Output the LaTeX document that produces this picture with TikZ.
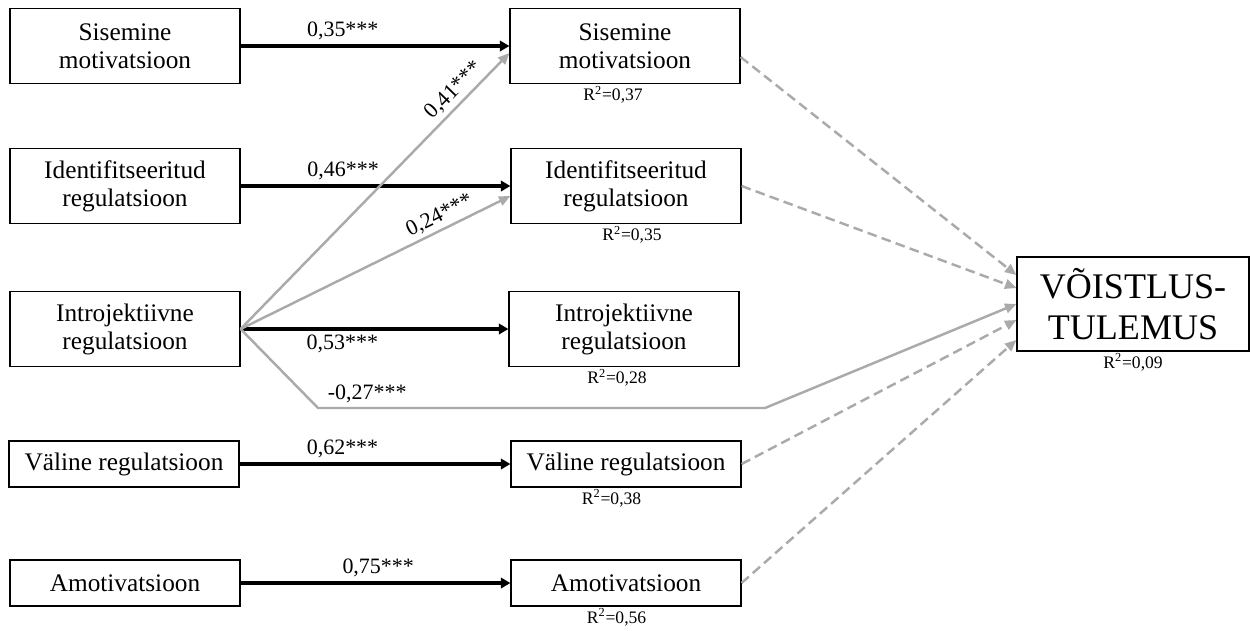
\documentclass[tikz,border=0pt]{standalone}
\usepackage{fontspec}
\setmainfont{Liberation Serif}
\usetikzlibrary{arrows.meta,positioning}
\definecolor{grijs}{RGB}{170,170,170}

\begin{document}
\begin{tikzpicture}[x=0.02cm, y=-0.02cm,
    vak/.style={draw, line width=0.7pt, minimum width=4.6cm, align=center, inner sep=2pt, font=\fontsize{14.4}{16}\selectfont},
    hoog/.style={minimum height=1.5cm},
    laag/.style={minimum height=0.92cm},
    pijl/.style={line width=2.6pt, -{Triangle[length=5.5pt,width=6pt]}},
    grijspijl/.style={grijs, line width=1.4pt, -{Triangle[length=6.5pt,width=5.5pt]}},
    stippel/.style={grijspijl, dash pattern=on 5.5pt off 3pt},
    coef/.style={text=black, font=\fontsize{12.5}{14}\selectfont, inner sep=2pt},
    rkw/.style={font=\fontsize{10}{11}\selectfont, inner sep=1pt}]
        \useasboundingbox (0,0) rectangle (1250,630);
        % vakken links
        \node [vak, hoog] (links1) at (125,46) {Sisemine\\motivatsioon};
        \node [vak, hoog] (links2) at (125,186) {Identifitseeritud\\regulatsioon};
        \node [vak, hoog] (links3) at (125,329) {Introjektiivne\\regulatsioon};
        \node [vak, laag] (links4) at (124,464) {Väline regulatsioon};
        \node [vak, laag] (links5) at (125,583) {Amotivatsioon};
        % vakken midden
        \node [vak, hoog] (midden1) at (625,46) {Sisemine\\motivatsioon};
        \node [vak, hoog] (midden2) at (626,186) {Identifitseeritud\\regulatsioon};
        \node [vak, hoog] (midden3) at (624,329) {Introjektiivne\\regulatsioon};
        \node [vak, laag] (midden4) at (626,464) {Väline regulatsioon};
        \node [vak, laag] (midden5) at (626,583) {Amotivatsioon};
        % uitkomst
        \node [vak, minimum width=4.64cm, minimum height=1.88cm, font=\fontsize{20.5}{23.5}\selectfont] (uitkomst) at (1133,304) {VÕISTLUS-\\TULEMUS};
        % verklaarde variantie
        \node [rkw, below=0pt of midden1.south, xshift=-0.24cm] (r1) {R\textsuperscript{2}=0,37};
        \node [rkw, below=0pt of midden2.south, xshift=0.12cm] (r2) {R\textsuperscript{2}=0,35};
        \node [rkw, below=0pt of midden3.south, xshift=-0.14cm] (r3) {R\textsuperscript{2}=0,28};
        \node [rkw, below=0pt of midden4.south, xshift=-0.29cm] (r4) {R\textsuperscript{2}=0,38};
        \node [rkw, below=0pt of midden5.south, xshift=-0.19cm] (r5) {R\textsuperscript{2}=0,56};
        \node [rkw, below=0pt of uitkomst.south] (r6) {R\textsuperscript{2}=0,09};
        % zwarte pijlen
        \draw [pijl] (links1) -- node [coef, above, pos=0.38] {0,35***} (midden1);
        \draw [pijl] (links2) -- node [coef, above, pos=0.38] {0,46***} (midden2);
        \draw [pijl] (links3) -- node [coef, below, pos=0.38] {0,53***} (midden3);
        \draw [pijl] (links4) -- node [coef, above, pos=0.38] {0,62***} (midden4);
        \draw [pijl] (links5) -- node [coef, above, pos=0.51] {0,75***} (midden5);
        % grijze pijlen
        \coordinate (knik1) at (318,408);
        \coordinate (knik2) at (765,408);
        \draw [grijspijl] (links3.east) -- node [coef, above, sloped, pos=0.83] {0,41***} ([yshift=-0.14cm]midden1.west);
        \draw [grijspijl] (links3.east) -- node [coef, above, sloped, pos=0.76] {0,24***} ([yshift=-0.2cm]midden2.west);
        \draw [grijspijl] (links3.east) -- (knik1) -- node [coef, above, pos=0.11] {-0,27***} (knik2) -- (uitkomst.west);
        % stippellijnen
        \draw [stippel] ([yshift=-0.22cm]midden1.east) -- ([yshift=0.58cm]uitkomst.west);
        \draw [stippel] (midden2.east) -- ([yshift=0.32cm]uitkomst.west);
        \draw [stippel] (midden4.east) -- ([yshift=-0.32cm]uitkomst.west);
        \draw [stippel] (midden5.east) -- ([yshift=-0.72cm]uitkomst.west);
    \end{tikzpicture}
\end{document}
